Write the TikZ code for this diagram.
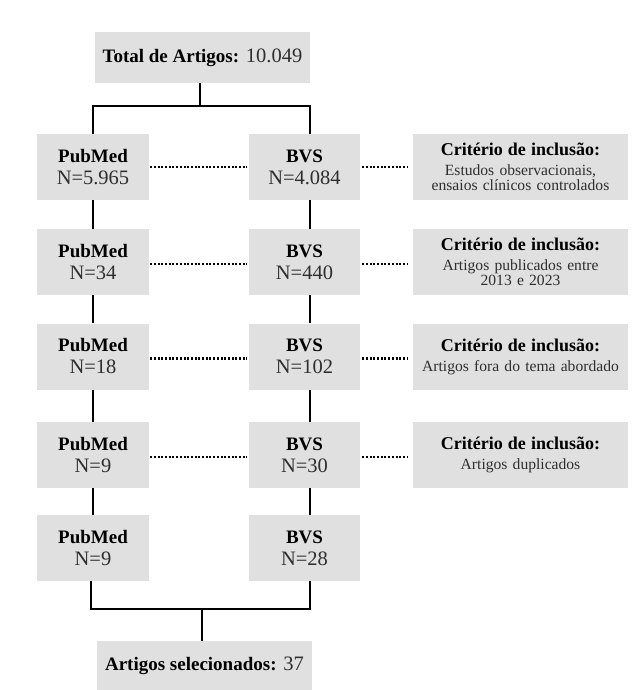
\documentclass[tikz,border=0pt]{standalone}
\usepackage{fontspec}
\setmainfont{Liberation Serif}
\definecolor{boxgray}{HTML}{E0E0E0}
\definecolor{txtgray}{HTML}{2E2E2E}
\newcommand{\lbl}[1]{{\bfseries\color{black}\fontsize{19}{22}\selectfont #1}}
\begin{document}
\lineskiplimit=-10pt
\begin{tikzpicture}[x=1pt,y=-1pt,
  box/.style={fill=boxgray, inner sep=0pt, align=center, text=txtgray},
  mainfont/.style={font=\fontsize{20.5}{22}\selectfont},
  src/.style={box, mainfont, minimum width=112pt, minimum height=66pt},
  wide/.style={box, mainfont, minimum width=215pt, minimum height=51pt},
  crit/.style={box, minimum width=215pt, minimum height=66pt, text width=215pt,
    font=\fontsize{15.6}{15}\selectfont},
  conn/.style={line width=2.8pt, line join=miter},
  dotline/.style={line width=2.2pt, dash pattern=on 2pt off 1.7pt}]
\useasboundingbox (0,0) rectangle (635,690);
\newcommand{\ctitle}{{\bfseries\color{black}\fontsize{18}{20}\selectfont Critério de inclusão:}\\[5pt]}
% top and bottom boxes
\node[wide] (total) at (202.5,57.5) {\lbl{Total de Artigos:} 10.049};
\node[wide, minimum height=49pt] (sel) at (204.5,665.5) {\lbl{Artigos selecionados:} 37};
% PubMed column
\node[src] (p1) at (93,167) {\lbl{PubMed}\\N=5.965};
\node[src] (p2) at (93,262) {\lbl{PubMed}\\N=34};
\node[src] (p3) at (93,356.5) {\lbl{PubMed}\\N=18};
\node[src] (p4) at (93,455) {\lbl{PubMed}\\N=9};
\node[src] (p5) at (93,548) {\lbl{PubMed}\\N=9};
% BVS column
\node[src, minimum width=111pt] (b1) at (304.5,167) {\lbl{BVS}\\N=4.084};
\node[src, minimum width=111pt] (b2) at (304.5,262) {\lbl{BVS}\\N=440};
\node[src, minimum width=111pt] (b3) at (304.5,356.5) {\lbl{BVS}\\N=102};
\node[src, minimum width=111pt] (b4) at (304.5,455) {\lbl{BVS}\\N=30};
\node[src, minimum width=111pt] (b5) at (304.5,548) {\lbl{BVS}\\N=28};
% criteria
\node[crit] (c1) at (520.5,167) {\ctitle Estudos observacionais,\\ensaios clínicos controlados};
\node[crit] (c2) at (520.5,262) {\ctitle Artigos publicados entre\\2013 e 2023};
\node[crit] (c3) at (520.5,356.5) {\ctitle Artigos fora do tema abordado};
\node[crit] (c4) at (520.5,455) {\ctitle Artigos duplicados};
% helper coordinates
\coordinate (bx) at (310,0);
\coordinate (topj) at (200,106);
\coordinate (botj) at (202,609);
% top split
\draw[conn] (total.south -| topj) -- (topj);
\draw[conn] (p1.north) -- (p1.north |- topj) -- (topj -| bx) -- (b1.north -| bx);
% vertical chains
\draw[conn] (p1.south) -- (p2.north);
\draw[conn] (p2.south) -- (p3.north);
\draw[conn] (p3.south) -- (p4.north);
\draw[conn] (p4.south) -- (p5.north);
\draw[conn] (b1.south -| bx) -- (b2.north -| bx);
\draw[conn] (b2.south -| bx) -- (b3.north -| bx);
\draw[conn] (b3.south -| bx) -- (b4.north -| bx);
\draw[conn] (b4.south -| bx) -- (b5.north -| bx);
% bottom join
\draw[conn] ([xshift=-2pt]p5.south) -- ([xshift=-2pt]p5.south |- botj) -- (botj -| bx) -- (b5.south -| bx);
\draw[conn] (botj) -- (sel.north -| botj);
% dotted links
\draw[dotline] ([xshift=1pt]p1.east) -- ([xshift=-2pt]b1.west);
\draw[dotline] ([xshift=2pt]b1.east) -- ([xshift=-5pt]c1.west);
\draw[dotline] ([xshift=1pt,yshift=-2pt]p2.east) -- ([xshift=-2pt,yshift=-2pt]b2.west);
\draw[dotline] ([xshift=2pt,yshift=-2pt]b2.east) -- ([xshift=-5pt,yshift=-2pt]c2.west);
\draw[dotline] ([xshift=1pt,yshift=-2pt]p3.east) -- ([xshift=-2pt,yshift=-2pt]b3.west);
\draw[dotline] ([xshift=2pt,yshift=-2pt]b3.east) -- ([xshift=-5pt,yshift=-2pt]c3.west);
\draw[dotline] ([xshift=1pt,yshift=-2pt]p4.east) -- ([xshift=-2pt,yshift=-2pt]b4.west);
\draw[dotline] ([xshift=2pt,yshift=-2pt]b4.east) -- ([xshift=-5pt,yshift=-2pt]c4.west);
\end{tikzpicture}
\end{document}
